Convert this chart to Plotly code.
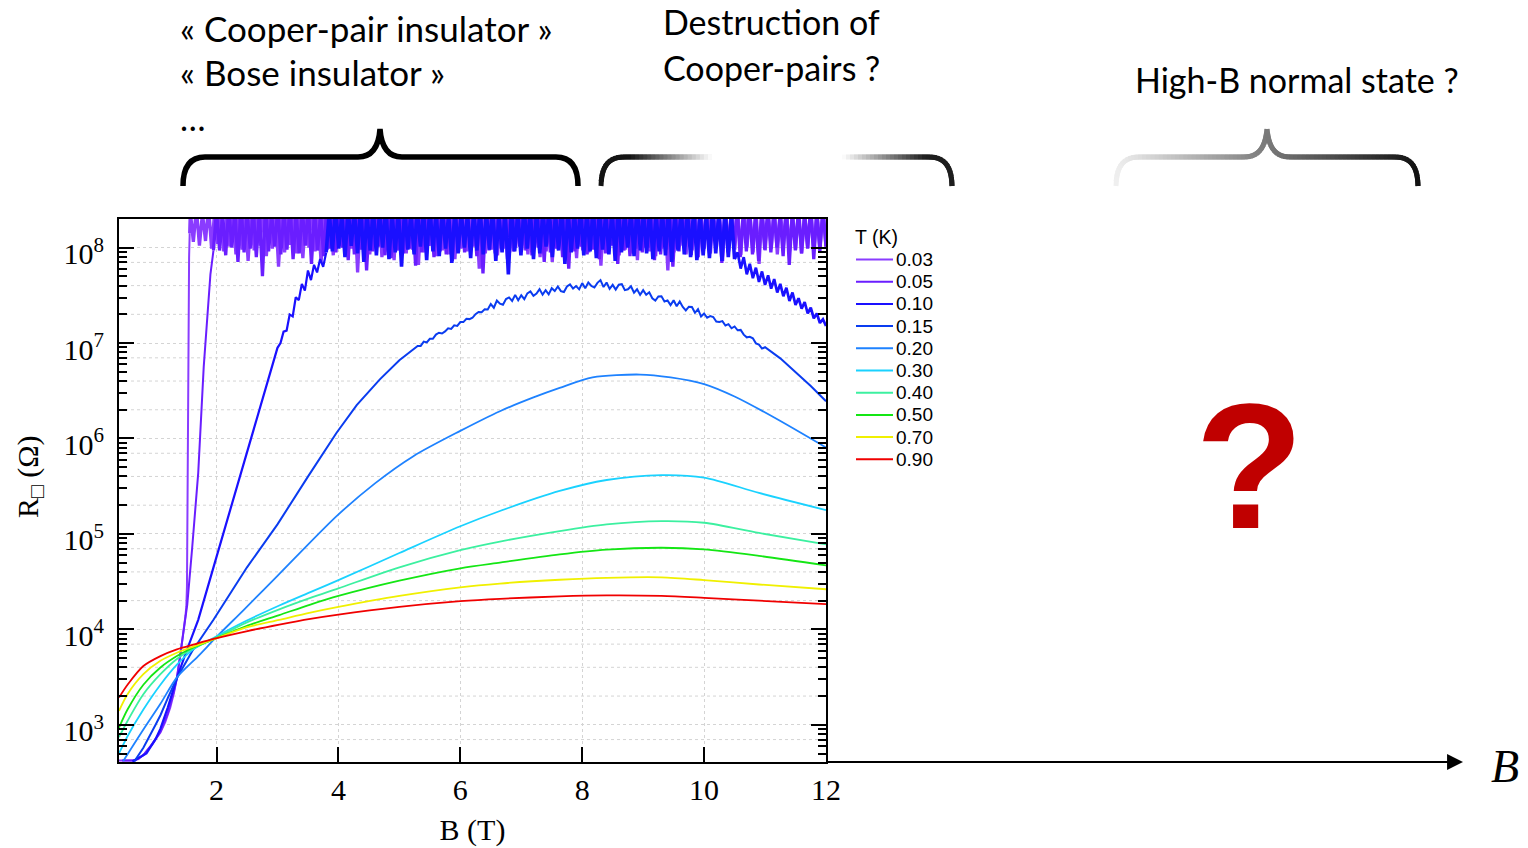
import numpy as np
import plotly.graph_objects as go

W, H = 1528, 848
L_PX, R_PX, T_PX, B_PX = 119, 826, 219, 762
YLOG_MIN, YLOG_MAX = 2.61, 8.30

TEMPS = ["0.03", "0.05", "0.10", "0.15", "0.20", "0.30", "0.40", "0.50", "0.70", "0.90"]
COLORS = ["#8a3cff", "#6a1eff", "#1a10ff", "#0a3cf0", "#1e82ff",
          "#1ad2ff", "#3cf0a0", "#14e614", "#f0f000", "#f00000"]
WIDTHS = [2.0, 2.0, 2.2, 2.0, 1.8, 1.8, 1.8, 1.8, 1.8, 1.8]
SAT_WIDTHS = {"0.03": 3.3, "0.05": 3.3, "0.10": 3.6}
FALL_WIDTH = 2.7

# ---------------- data (log10 of R in ohm) ----------------
B_SMOOTH = [0.40, 0.54, 0.80, 1.08, 1.35, 1.62, 1.95, 2.49, 3.03, 3.54, 4.00, 5.00,
            6.00, 6.65, 7.63, 8.40, 9.30, 10.00, 10.90, 12.00]
LOGR_030 = [2.70, 2.88, 3.16, 3.42, 3.63, 3.79, 3.91, 4.09, 4.25, 4.39, 4.515, 4.80,
            5.08, 5.24, 5.45, 5.565, 5.616, 5.59, 5.43, 5.25]
LOGR_040 = [2.87, 3.04, 3.32, 3.53, 3.69, 3.80, 3.90, 4.07, 4.21, 4.33, 4.43, 4.65,
            4.83, 4.92, 5.03, 5.10, 5.134, 5.117, 5.01, 4.89]
LOGR_050 = [2.97, 3.16, 3.42, 3.60, 3.72, 3.81, 3.895, 4.035, 4.15, 4.26, 4.35, 4.51,
            4.64, 4.70, 4.785, 4.835, 4.855, 4.838, 4.77, 4.67]
LOGR_070 = [3.145, 3.32, 3.53, 3.67, 3.755, 3.82, 3.895, 4.02, 4.10, 4.175, 4.235, 4.35,
            4.44, 4.48, 4.52, 4.54, 4.545, 4.516, 4.47, 4.42]
LOGR_090 = [3.285, 3.42, 3.616, 3.72, 3.79, 3.84, 3.90, 3.98, 4.05, 4.11, 4.155, 4.235,
            4.295, 4.32, 4.345, 4.355, 4.35, 4.33, 4.30, 4.265]

B_020 = [0.47, 0.80, 1.08, 1.35, 1.70, 2.00, 2.44, 3.00, 3.97, 4.60, 5.23, 6.00, 6.65,
         7.20, 7.63, 8.17, 8.95, 9.45, 10.00, 10.50, 11.15, 12.00]
LOGR_020 = [2.62, 2.95, 3.22, 3.497, 3.72, 3.92, 4.20, 4.56, 5.186, 5.53, 5.815, 6.08,
            6.286, 6.43, 6.53, 6.64, 6.67, 6.64, 6.57, 6.44, 6.22, 5.906]

B_015_LOW = [0.65, 0.80, 1.00, 1.08, 1.20, 1.35, 1.60, 1.95, 2.50, 3.00, 3.50, 3.97,
             4.30, 4.68, 5.00, 5.23]
LOGR_015_LOW = [2.615, 2.76, 3.00, 3.10, 3.28, 3.49, 3.77, 4.10, 4.65, 5.10, 5.60, 6.06,
                6.35, 6.62, 6.82, 6.93]
LOGR_015_NOISY = [6.970, 6.970, 7.015, 7.007, 7.045, 7.045, 7.089, 7.108, 7.100, 7.122,
                  7.155, 7.148, 7.186, 7.180, 7.220, 7.220, 7.254, 7.251, 7.265, 7.303,
                  7.325, 7.324, 7.353, 7.351, 7.408, 7.370, 7.445, 7.413, 7.402, 7.461,
                  7.478, 7.442, 7.505, 7.448, 7.500, 7.460, 7.521, 7.542, 7.495, 7.518,
                  7.565, 7.507, 7.554, 7.510, 7.575, 7.545, 7.592, 7.544, 7.535, 7.593,
                  7.615, 7.571, 7.597, 7.563, 7.628, 7.575, 7.635, 7.598, 7.582, 7.631,
                  7.660, 7.587, 7.635, 7.568, 7.610, 7.560, 7.611, 7.617, 7.555, 7.563,
                  7.595, 7.527, 7.564, 7.505, 7.555, 7.505, 7.532, 7.469, 7.445, 7.488,
                  7.490, 7.436, 7.447, 7.398, 7.448, 7.385, 7.435, 7.378, 7.342, 7.381,
                  7.378, 7.317, 7.355, 7.278, 7.310, 7.265, 7.282, 7.273, 7.226, 7.221,
                  7.230, 7.184, 7.198, 7.155, 7.174, 7.134, 7.138, 7.088, 7.060, 7.065,
                  7.050, 6.997, 6.984, 6.942, 6.956]
B_015_END = [11.25, 11.50, 11.75, 12.00]
LOGR_015_END = [6.84, 6.70, 6.55, 6.39]

B_010_LOW = [0.62, 0.85, 1.00, 1.08, 1.20, 1.35, 1.50, 1.70, 2.00, 2.50, 2.95]
LOGR_010_LOW = [2.615, 2.70, 2.85, 2.96, 3.18, 3.49, 3.76, 4.10, 4.76, 5.86, 6.85]
LOGR_010_RISE = [6.95, 7.00, 7.12, 7.13, 7.30, 7.28, 7.48, 7.45, 7.62, 7.55,
                 7.76, 7.66, 7.82, 7.74, 7.88, 7.80, 7.95]
LOGR_010_SAT = [8.37, 7.96, 8.42, 7.99, 8.35, 7.90, 8.40, 8.02, 8.38, 7.94,
                8.44, 7.85, 8.36, 7.97, 8.41, 7.92, 8.37, 8.00, 8.43, 7.88,
                8.35, 7.95, 8.39, 7.80, 8.42, 7.98, 8.36, 7.93, 8.40, 8.01,
                8.38, 7.87, 8.44, 7.96, 8.37, 7.91, 8.41, 7.99, 8.35, 7.84,
                8.43, 7.94, 8.38, 8.00, 8.36, 7.89, 8.40, 7.97, 8.42, 7.93,
                8.37, 7.98, 8.44, 7.86, 8.35, 7.95, 8.39, 7.72, 8.41, 7.96,
                8.36, 7.92, 8.43, 7.99, 8.38, 7.88, 8.40, 7.94, 8.37, 8.01,
                8.42, 7.90, 8.35, 7.97, 8.44, 7.83, 8.38, 7.95, 8.36, 7.99,
                8.41, 7.92, 8.37, 7.96, 8.43, 7.89, 8.39, 7.98, 8.35, 7.93,
                8.40, 7.86, 8.42, 7.95, 8.36, 8.00, 8.38, 7.91, 8.44, 7.97,
                8.37, 7.94, 8.41, 7.88, 8.35, 7.96, 8.39, 7.92, 8.43, 7.85,
                8.36, 7.97, 8.40, 7.93, 8.38, 7.90, 8.42, 7.87, 8.37, 7.92,
                8.35, 7.89, 8.41, 7.94, 8.36, 7.86, 8.39, 7.90, 8.34, 7.88]
LOGR_010_FALL = [7.95, 7.78, 7.90, 7.72, 7.83, 7.68, 7.79, 7.64, 7.75, 7.61,
                 7.71, 7.57, 7.67, 7.53, 7.62, 7.49, 7.58, 7.44, 7.53, 7.40,
                 7.47, 7.36, 7.43, 7.31, 7.37, 7.26, 7.31, 7.21, 7.25, 7.18]

B_005_LOW = [0.45, 0.66, 0.80, 0.95, 1.08, 1.20, 1.30, 1.35, 1.42, 1.49, 1.52, 1.60,
             1.70, 1.79, 1.85, 1.90, 1.95]
LOGR_005_LOW = [2.625, 2.625, 2.68, 2.80, 2.93, 3.12, 3.35, 3.49, 3.80, 4.10, 4.26, 4.85,
                5.64, 6.75, 7.30, 7.72, 7.97]
LOGR_005_SAT = [8.39, 7.97, 8.35, 7.92, 8.42, 8.00, 8.37, 7.85, 8.44, 7.95,
                8.36, 7.99, 8.40, 7.90, 8.38, 7.70, 8.43, 7.96, 8.35, 8.01,
                8.41, 7.93, 8.37, 7.98, 8.45, 7.88, 8.36, 7.94, 8.39, 8.02,
                8.42, 7.83, 8.38, 7.97, 8.35, 7.91, 8.44, 7.99, 8.37, 7.95,
                8.40, 8.00, 8.36, 7.87, 8.43, 7.93, 8.38, 7.98, 8.41, 7.76,
                8.35, 7.96, 8.42, 8.01, 8.37, 7.92, 8.39, 7.89, 8.44, 7.97,
                8.36, 7.94, 8.40, 7.99, 8.38, 7.81, 8.43, 7.95, 8.35, 8.02,
                8.41, 7.90, 8.37, 7.96, 8.45, 7.93, 8.36, 7.86, 8.39, 7.98,
                8.42, 7.95, 8.38, 8.00, 8.35, 7.91, 8.44, 7.73, 8.37, 7.97,
                8.40, 7.94, 8.36, 7.99, 8.43, 7.88, 8.38, 7.96, 8.41, 8.01,
                8.39, 7.97, 8.35, 7.92, 8.42, 8.00, 8.37, 7.85, 8.44, 7.95,
                8.36, 7.99, 8.40, 7.90, 8.38, 7.78, 8.43, 7.96, 8.35, 8.01,
                8.41, 7.93, 8.37, 7.98, 8.45, 7.88, 8.36, 7.94, 8.39, 8.02,
                8.42, 7.83, 8.38, 7.97, 8.35, 7.91, 8.44, 7.99, 8.37, 7.95,
                8.40, 8.00, 8.36, 7.87, 8.43, 7.93, 8.38, 7.98, 8.41, 7.80,
                8.35, 7.96, 8.42, 8.01, 8.37, 7.92, 8.39, 7.89, 8.44, 7.97,
                8.36, 7.94, 8.40, 7.99, 8.38, 7.84, 8.43, 7.95, 8.35, 8.02,
                8.41, 7.90, 8.37, 7.96, 8.45, 7.93, 8.36, 7.86, 8.39, 7.98,
                8.42, 7.95, 8.38, 8.00, 8.35, 7.91, 8.44, 7.82, 8.37, 7.97,
                8.40, 7.94, 8.36, 7.99, 8.43, 7.88, 8.38, 7.96, 8.41, 8.01]

B_003_LOW = [0.40, 0.62, 0.72, 0.82, 0.92, 1.00, 1.08, 1.16, 1.24, 1.30, 1.35, 1.40,
             1.45, 1.49, 1.505, 1.515, 1.525, 1.533, 1.542, 1.55, 1.56]
LOGR_003_LOW = [2.625, 2.625, 2.64, 2.70, 2.78, 2.85, 2.92, 3.03, 3.18, 3.33, 3.49, 3.70,
                3.93, 4.14, 4.24, 4.45, 5.40, 6.60, 7.40, 7.90, 8.15]
LOGR_003_SAT = [8.38, 8.06, 8.41, 8.02, 8.36, 8.07, 8.43, 7.99, 8.37, 8.04,
                8.40, 7.96, 8.35, 8.01, 8.44, 7.93, 8.38, 7.98, 8.42, 7.86,
                8.36, 7.97, 8.39, 8.02, 8.45, 7.91, 8.37, 7.99, 8.41, 7.80,
                8.35, 7.95, 8.43, 8.03, 8.38, 7.94, 8.40, 7.89, 8.36, 8.00,
                8.44, 7.96, 8.37, 7.84, 8.41, 7.98, 8.35, 7.92, 8.39, 8.02,
                8.42, 7.95, 8.36, 7.99, 8.44, 7.74, 8.38, 7.97, 8.40, 7.93,
                8.35, 8.01, 8.43, 7.90, 8.37, 7.96, 8.41, 7.87, 8.39, 8.00,
                8.36, 7.94, 8.45, 7.98, 8.38, 7.82, 8.40, 7.95, 8.35, 8.02,
                8.42, 7.91, 8.37, 7.97, 8.44, 7.93, 8.36, 7.88, 8.40, 7.99,
                8.38, 7.96, 8.41, 8.01, 8.35, 7.78, 8.43, 7.94, 8.37, 7.98,
                8.40, 7.92, 8.36, 7.99, 8.42, 7.95, 8.38, 8.00, 8.41, 7.97,
                8.37, 7.93, 8.44, 8.02, 8.36, 7.90, 8.40, 7.96, 8.35, 7.85,
                8.43, 7.98, 8.38, 7.94, 8.41, 8.01, 8.36, 7.89, 8.42, 7.97,
                8.37, 7.95, 8.45, 7.99, 8.35, 7.81, 8.40, 7.96, 8.38, 8.03,
                8.43, 7.92, 8.36, 7.98, 8.41, 7.94, 8.37, 7.87, 8.44, 8.00,
                8.35, 7.96, 8.39, 7.91, 8.42, 7.99, 8.38, 7.76, 8.40, 7.95,
                8.36, 8.02, 8.43, 7.93, 8.37, 7.97, 8.41, 7.90, 8.35, 7.99,
                8.44, 7.94, 8.38, 8.01, 8.36, 7.86, 8.40, 7.96, 8.42, 7.98,
                8.37, 7.92, 8.45, 8.00, 8.35, 7.95, 8.39, 7.83, 8.41, 7.97,
                8.36, 7.99, 8.43, 7.93, 8.38, 8.02, 8.40, 7.96, 8.37, 7.98,
                8.41, 7.94, 8.36, 8.00, 8.42, 7.97, 8.38, 7.99, 8.40, 8.01]

X_TICKS = [2, 4, 6, 8, 10, 12]
Y_TICK_EXP = [3, 4, 5, 6, 7, 8]
Y_TICK_TEXT = ["10<sup>3</sup>", "10<sup>4</sup>", "10<sup>5</sup>",
               "10<sup>6</sup>", "10<sup>7</sup>", "10<sup>8</sup>"]

# ---------------- assemble series ----------------
def sweep(b0, b1, vals):
    return list(np.linspace(b0, b1, len(vals)))

B_010_SAT = sweep(3.85, 10.5, LOGR_010_SAT)
B_010_FALL = sweep(10.55, 12.0, LOGR_010_FALL)

# each entry: list of (B, logR, shape, line width or None for default)
SERIES = {
    "0.03": [(B_003_LOW, LOGR_003_LOW, "linear", None),
             (B_003_LOW[-1:] + sweep(1.57, 12.0, LOGR_003_SAT), LOGR_003_LOW[-1:] + LOGR_003_SAT,
              "linear", SAT_WIDTHS["0.03"])],
    "0.05": [(B_005_LOW, LOGR_005_LOW, "linear", None),
             (B_005_LOW[-1:] + sweep(2.0, 12.0, LOGR_005_SAT), LOGR_005_LOW[-1:] + LOGR_005_SAT,
              "linear", SAT_WIDTHS["0.05"])],
    "0.10": [(B_010_LOW + sweep(3.0, 3.8, LOGR_010_RISE), LOGR_010_LOW + LOGR_010_RISE, "linear", None),
             ([3.8] + B_010_SAT, LOGR_010_RISE[-1:] + LOGR_010_SAT, "linear", SAT_WIDTHS["0.10"]),
             (B_010_SAT[-1:] + B_010_FALL, LOGR_010_SAT[-1:] + LOGR_010_FALL, "linear", FALL_WIDTH)],
    "0.15": [(B_015_LOW + sweep(5.3, 11.0, LOGR_015_NOISY) + B_015_END,
              LOGR_015_LOW + LOGR_015_NOISY + LOGR_015_END, "linear", None)],
    "0.20": [(B_020, LOGR_020, "spline", None)],
    "0.30": [(B_SMOOTH, LOGR_030, "spline", None)],
    "0.40": [(B_SMOOTH, LOGR_040, "spline", None)],
    "0.50": [(B_SMOOTH, LOGR_050, "spline", None)],
    "0.70": [(B_SMOOTH, LOGR_070, "spline", None)],
    "0.90": [(B_SMOOTH, LOGR_090, "spline", None)],
}

fig = go.Figure()
for t, c, w in zip(TEMPS, COLORS, WIDTHS):
    for bx, ly, shape, lw in SERIES[t]:
        fig.add_trace(go.Scatter(
            x=bx, y=10 ** np.array(ly), mode="lines", name=t, showlegend=False, legendgroup=t,
            line=dict(color=c, width=lw if lw else w, shape=shape,
                      smoothing=0.8 if shape == "spline" else None),
        ))

# ---------------- helpers for decorations ----------------
def pp(px, py):
    return (px - L_PX) / (R_PX - L_PX), (B_PX - py) / (B_PX - T_PX)

shapes = []

# extra dotted horizontal grid lines (2, 4, 7 x 10^n)
for e in range(2, 9):
    for m in (2, 4, 7):
        lv = np.log10(m * 10 ** e)
        if YLOG_MIN < lv < YLOG_MAX:
            yp = (lv - YLOG_MIN) / (YLOG_MAX - YLOG_MIN)
            shapes.append(dict(type="line", xref="paper", yref="paper", x0=0, x1=1,
                               y0=yp, y1=yp, layer="below",
                               line=dict(color="#d4d4d4", width=1, dash="dot")))

def quad(p0, p1, p2, n=12):
    pts = []
    for i in range(n + 1):
        t = i / n
        x = (1 - t) ** 2 * p0[0] + 2 * (1 - t) * t * p1[0] + t ** 2 * p2[0]
        y = (1 - t) ** 2 * p0[1] + 2 * (1 - t) * t * p1[1] + t ** 2 * p2[1]
        pts.append((x, y))
    return pts

def line_pts(p0, p1, step=4):
    n = max(1, int(abs(p1[0] - p0[0]) / step))
    return [(p0[0] + (p1[0] - p0[0]) * i / n, p0[1] + (p1[1] - p0[1]) * i / n) for i in range(n + 1)]

def gray_hex(g):
    g = int(max(0, min(255, round(g))))
    return "#%02x%02x%02x" % (g, g, g)

def add_poly(pts, gray_fn, width=5):
    n = len(pts)
    for i in range(n - 1):
        a = pts[i]
        b = pts[min(i + 2, n - 1)]
        xm = (pts[i][0] + pts[i + 1][0]) / 2
        x0, y0 = pp(*a)
        x1, y1 = pp(*b)
        shapes.append(dict(type="line", xref="paper", yref="paper", x0=x0, y0=y0, x1=x1, y1=y1,
                           line=dict(color=gray_hex(gray_fn(xm)), width=width)))

def path_str(cmds):
    out = []
    for c in cmds:
        if c[0] in ("M", "L"):
            x, y = pp(*c[1])
            out.append(f"{c[0]} {x:.5f},{y:.5f}")
        else:
            x1, y1 = pp(*c[1])
            x2, y2 = pp(*c[2])
            out.append(f"Q {x1:.5f},{y1:.5f} {x2:.5f},{y2:.5f}")
    return " ".join(out)

# brace 1 (solid black)
b1 = path_str([("M", (183, 186)), ("Q", (183, 157), (205, 157)), ("L", (358, 157)),
               ("Q", (378, 157), (380, 129)), ("Q", (382, 157), (402, 157)),
               ("L", (556, 157)), ("Q", (578, 157), (578, 186))])
shapes.append(dict(type="path", xref="paper", yref="paper", path=b1,
                   line=dict(color="#000000", width=5.5)))

# brace 2 (fading in the middle)
def g2(x):
    if x < 630:
        return 20
    if x < 712:
        return 20 + (255 - 20) * (x - 630) / 82
    if x < 842:
        return 255
    if x < 925:
        return 255 - (255 - 30) * (x - 842) / 83
    return 30
pts = quad((601, 186), (601, 157), (623, 157)) + line_pts((623, 157), (712, 157))[1:]
add_poly(pts, g2)
pts = line_pts((842, 157), (930, 157)) + quad((930, 157), (952, 157), (952, 186))[1:]
add_poly(pts, g2)

# brace 3 (gradient light -> dark)
def g3(x):
    if x <= 1267:
        return 240 - (240 - 122) * (x - 1115) / 152
    return 122 - (122 - 18) * (x - 1267) / 151
pts = (quad((1116, 186), (1116, 157), (1138, 157)) + line_pts((1138, 157), (1245, 157))[1:]
       + quad((1245, 157), (1265, 157), (1267, 129))[1:] + quad((1267, 129), (1269, 157), (1289, 157))[1:]
       + line_pts((1289, 157), (1396, 157))[1:] + quad((1396, 157), (1418, 157), (1418, 186))[1:])
add_poly(pts, g3)

# ---------------- annotations ----------------
SANS = "Lato, Open Sans, sans-serif"
SERIF = "Liberation Serif, Times New Roman, serif"
ARIAL = "Liberation Sans, Arial, sans-serif"
annotations = []

def txt(px, py, s, size, color="#000000", family=SANS, xanchor="left", **kw):
    x, y = pp(px, py)
    annotations.append(dict(x=x, y=y, xref="paper", yref="paper", text=s, showarrow=False,
                            xanchor=xanchor, yanchor="middle",
                            font=dict(size=size, color=color, family=family), **kw))

txt(178, 28, "«\u00a0Cooper-pair insulator\u00a0»", 35)
txt(178, 72, "«\u00a0Bose insulator\u00a0»", 35)
txt(178, 118, "…", 34)
txt(661, 22, "Destruction of", 34)
txt(661, 67, "Cooper-pairs ?", 34)
txt(1133, 79, "High-B normal state ?", 34)
txt(1249, 466, "<b>?</b>", 178, color="#c00000", family=ARIAL, xanchor="center")
txt(1505, 766, "<i>B</i>", 46, family=SERIF, xanchor="center")

# y-axis title
txt(30, 477, "R<sub>□</sub> (Ω)", 30, family=SERIF, xanchor="center", textangle=-90)

# legend (drawn manually to match the compact spacing)
LEG_TITLE = "T (K)"
txt(853, 237, LEG_TITLE, 19.5, family=ARIAL)
for i, (t, c) in enumerate(zip(TEMPS, COLORS)):
    yy = 259.5 + 22.2 * i
    x0, y0 = pp(856, yy)
    x1, _ = pp(893, yy)
    shapes.append(dict(type="line", xref="paper", yref="paper", x0=x0, x1=x1, y0=y0, y1=y0,
                       line=dict(color=c, width=2)))
    txt(894, yy, t, 19, family=ARIAL)

# x-axis extension arrow
xa, ya = pp(1463, B_PX)
annotations.append(dict(x=xa, y=ya, xref="paper", yref="paper", ax=-(1463 - R_PX), ay=0,
                        axref="pixel", ayref="pixel", text="", showarrow=True,
                        arrowhead=2, arrowsize=1.45, arrowwidth=2.2, arrowcolor="#000000"))

minor_vals = [m * 10 ** e for e in range(2, 9) for m in range(2, 10)]

fig.update_layout(
    width=W, height=H,
    margin=dict(l=L_PX, r=W - R_PX, t=T_PX, b=H - B_PX, pad=0, autoexpand=False),
    paper_bgcolor="white", plot_bgcolor="white",
    shapes=shapes, annotations=annotations,
    showlegend=False,
    xaxis=dict(range=[0.4, 12.0], tickvals=X_TICKS, ticks="inside", ticklen=15, tickwidth=1.5,
               tickcolor="#000000", showline=True, linewidth=2.2, linecolor="#000000",
               mirror=True, showgrid=True, gridcolor="#d4d4d4", griddash="dot", gridwidth=1,
               zeroline=False, ticklabelstandoff=0, automargin=False,
               tickfont=dict(family=SERIF, size=30, color="#000000"),
               title=dict(text="B (T)", font=dict(family=SERIF, size=30, color="#000000"),
                          standoff=14)),
    yaxis=dict(type="log", range=[YLOG_MIN, YLOG_MAX],
               tickvals=[10 ** e for e in Y_TICK_EXP], ticktext=Y_TICK_TEXT,
               ticks="inside", ticklen=15, tickwidth=1.5, tickcolor="#000000",
               showline=True, linewidth=2, linecolor="#000000", mirror="allticks",
               showgrid=True, gridcolor="#d4d4d4", griddash="dot", gridwidth=1,
               zeroline=False, ticklabelstandoff=7, ticklabelshift=6, automargin=False,
               minor=dict(tickvals=minor_vals, ticks="inside", ticklen=8, tickwidth=1.5,
                          tickcolor="#000000", showgrid=False),
               tickfont=dict(family=SERIF, size=30, color="#000000")),
)

fig.write_html("out.html")
